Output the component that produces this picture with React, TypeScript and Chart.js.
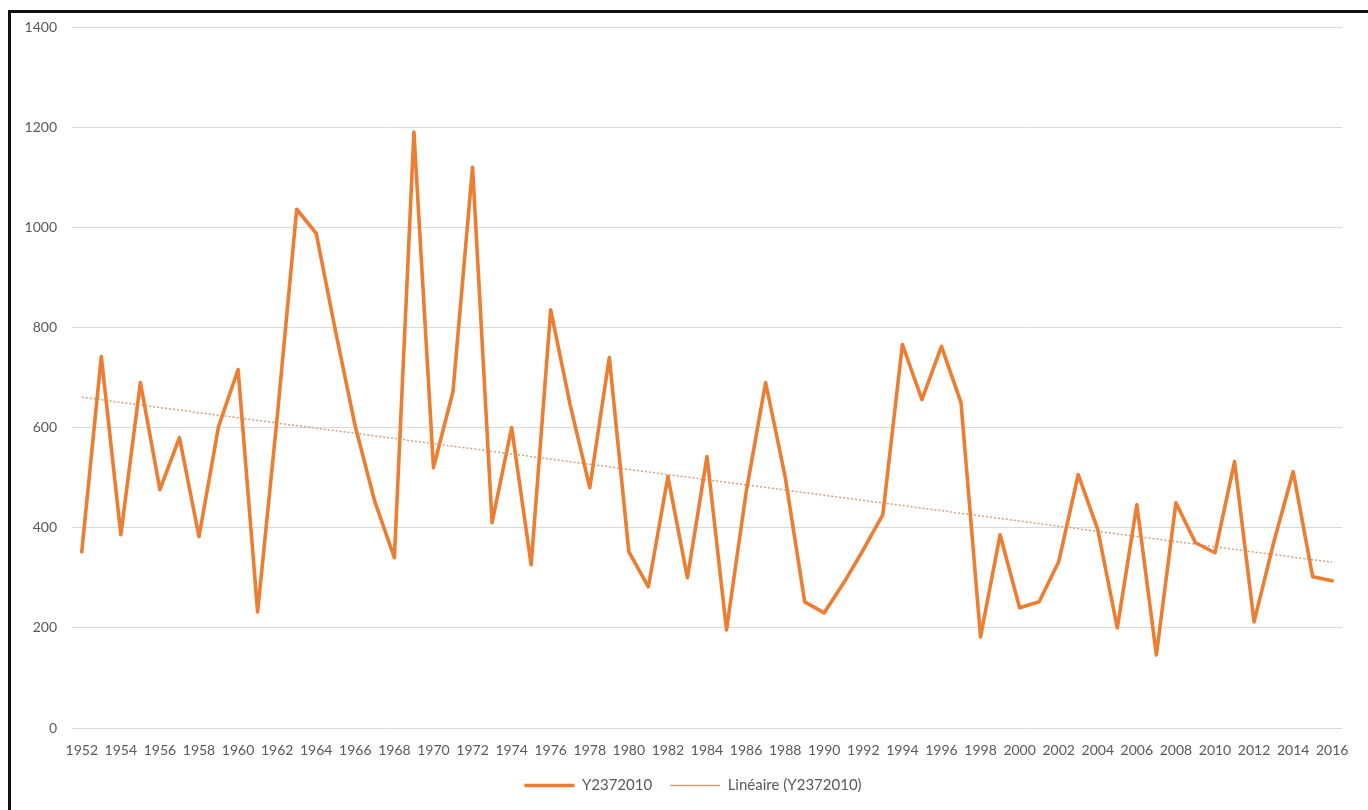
import React, { useEffect, useRef } from "react";
import { Chart, registerables } from "chart.js";

Chart.register(...registerables);

const years = [
  "1952", "1953", "1954", "1955", "1956", "1957", "1958", "1959", "1960", "1961",
  "1962", "1963", "1964", "1965", "1966", "1967", "1968", "1969", "1970", "1971",
  "1972", "1973", "1974", "1975", "1976", "1977", "1978", "1979", "1980", "1981",
  "1982", "1983", "1984", "1985", "1986", "1987", "1988", "1989", "1990", "1991",
  "1992", "1993", "1994", "1995", "1996", "1997", "1998", "1999", "2000", "2001",
  "2002", "2003", "2004", "2005", "2006", "2007", "2008", "2009", "2010", "2011",
  "2012", "2013", "2014", "2015", "2016",
];

const values = [
  352, 742, 386, 690, 476, 580, 382, 602, 716, 232,
  620, 1036, 988, 790, 602, 452, 340, 1190, 520, 672,
  1120, 410, 600, 326, 835, 645, 480, 740, 352, 282,
  502, 300, 542, 196, 470, 690, 502, 252, 230, 290,
  356, 426, 766, 656, 762, 650, 182, 386, 240, 252,
  332, 506, 396, 200, 446, 146, 450, 370, 350, 532,
  212, 370, 512, 302, 294,
];

const seriesLabel = "Y2372010";
const trendLabel = "Linéaire (Y2372010)";
const yMin = 0;
const yMax = 1400;
const yStep = 200;

// Least-squares linear trend of the series (as the spreadsheet's "Linéaire" trendline)
function linearTrend(v: number[]): number[] {
  const n = v.length;
  let sx = 0, sy = 0, sxx = 0, sxy = 0;
  v.forEach((y, i) => {
    sx += i; sy += y; sxx += i * i; sxy += i * y;
  });
  const b = (n * sxy - sx * sy) / (n * sxx - sx * sx);
  const a = (sy - b * sx) / n;
  return v.map((_, i) => a + b * i);
}

const FONT = "Lato, 'Open Sans', sans-serif";
const TEXT = "#595959";

// shift the legend block so it is centred under the plot like the original
const legendShift = {
  id: "legendShift",
  afterLayout(chart: any) {
    if (chart.legend) chart.legend.left += 44;
  },
};

export default function App() {
  const ref = useRef<HTMLCanvasElement | null>(null);

  useEffect(() => {
    if (!ref.current) return;
    const chart = new Chart(ref.current, {
      type: "line",
      data: {
        labels: years,
        datasets: [
          {
            label: seriesLabel,
            data: values,
            borderColor: "#ED7D31",
            backgroundColor: "#ED7D31",
            borderWidth: 3.6,
            borderJoinStyle: "round",
            borderCapStyle: "round",
            pointRadius: 0,
            tension: 0,
            pointStyle: "line",
          },
          {
            label: trendLabel,
            data: linearTrend(values),
            borderColor: "#CFA184",
            backgroundColor: "#CFA184",
            borderWidth: 1.5,
            borderDash: [2, 2],
            pointRadius: 0,
            tension: 0,
            pointStyle: "line",
          },
        ],
      },
      options: {
        responsive: false,
        animation: false,
        events: [],
        layout: { padding: { top: 27, right: 26, bottom: 7, left: 0 } },
        plugins: {
          tooltip: { enabled: false },
          legend: {
            position: "bottom",
            labels: {
              usePointStyle: true,
              pointStyleWidth: 50,
              padding: 18,
              color: TEXT,
              font: { family: FONT, size: 15 },
            },
          },
        },
        scales: {
          x: {
            type: "category",
            offset: true,
            grid: { display: false, drawTicks: false },
            border: { display: false },
            afterFit: (s: any) => { s.height = 32; },
            ticks: {
              autoSkip: false,
              maxRotation: 0,
              minRotation: 0,
              padding: 14,
              color: TEXT,
              font: { family: FONT, size: 14 },
              callback: (_v: any, i: number) => (i % 2 === 0 ? years[i] : ""),
            },
          },
          y: {
            min: yMin,
            max: yMax,
            grid: { color: "#D9D9D9", lineWidth: 1, drawTicks: false },
            border: { display: false },
            afterFit: (s: any) => { s.width = 72; },
            ticks: {
              stepSize: yStep,
              padding: 15,
              color: TEXT,
              font: { family: FONT, size: 14 },
              callback: (v: any) => String(v),
            },
          },
        },
      },
      plugins: [legendShift],
    });
    return () => chart.destroy();
  }, []);

  return (
    <div
      style={{
        position: "fixed",
        left: 0,
        top: 0,
        width: 1368,
        height: 810,
        overflow: "hidden",
        background: "#fff",
      }}
    >
      <div
        style={{
          position: "absolute",
          left: 8,
          top: 10,
          width: 1400,
          height: 900,
          border: "3px solid #111",
          boxSizing: "border-box",
        }}
      />
      <canvas
        ref={ref}
        width={1368}
        height={810}
        style={{ position: "absolute", left: 0, top: 0, width: 1368, height: 810 }}
      />
    </div>
  );
}
